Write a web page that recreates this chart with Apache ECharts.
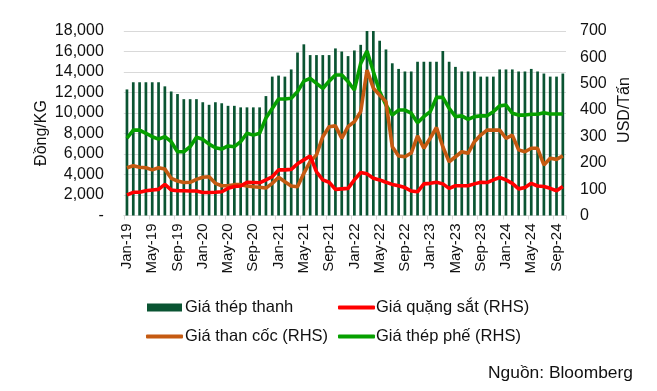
<!DOCTYPE html>
<html>
<head>
<meta charset="utf-8">
<script src="https://cdn.jsdelivr.net/npm/echarts@6/dist/echarts.min.js"></script>
<style>
html,body{margin:0;padding:0;background:#fff;}
#c{width:657px;height:391px;}
</style>
</head>
<body>
<div id="c"></div>
<script>
var categories = [
'Jan-19','Feb-19','Mar-19','Apr-19','May-19','Jun-19','Jul-19','Aug-19','Sep-19','Oct-19','Nov-19','Dec-19',
'Jan-20','Feb-20','Mar-20','Apr-20','May-20','Jun-20','Jul-20','Aug-20','Sep-20','Oct-20','Nov-20','Dec-20',
'Jan-21','Feb-21','Mar-21','Apr-21','May-21','Jun-21','Jul-21','Aug-21','Sep-21','Oct-21','Nov-21','Dec-21',
'Jan-22','Feb-22','Mar-22','Apr-22','May-22','Jun-22','Jul-22','Aug-22','Sep-22','Oct-22','Nov-22','Dec-22',
'Jan-23','Feb-23','Mar-23','Apr-23','May-23','Jun-23','Jul-23','Aug-23','Sep-23','Oct-23','Nov-23','Dec-23',
'Jan-24','Feb-24','Mar-24','Apr-24','May-24','Jun-24','Jul-24','Aug-24','Sep-24','Oct-24'
];
// Giá thép thanh (Đồng/KG)
var rebar = [
12300,13000,13000,13000,13000,13000,12600,12100,11850,11350,11350,11350,
11050,10800,11050,10950,10700,10700,10550,10550,10550,10550,11650,13550,
13650,13550,14250,15900,16700,15650,15650,15650,15650,16300,16000,15550,
16100,16650,18000,18000,17050,16200,14850,14300,14050,14050,15000,15000,
15000,15000,16050,15000,14500,14050,14050,14050,13550,13550,13550,14250,
14250,14250,14050,14050,14300,14050,13850,13550,13550,13850
];
// Giá quặng sắt (USD/Tấn)
var ironOre = [
78,88,88,94,97,99,118,97,94,94,93,93,
87,87,88,90,103,110,112,126,125,124,135,147,
173,173,175,196,211,226,166,135,126,99,101,103,
135,163,158,141,135,126,118,113,106,93,90,120,
122,126,120,103,113,113,113,120,126,125,135,144,
135,122,101,106,122,112,110,103,94,110
];
// Giá than cốc (USD/Tấn)
var cokingCoal = [
181,189,183,181,173,181,176,141,131,125,126,137,
145,147,122,113,113,117,117,112,109,107,104,122,
145,128,112,109,160,204,230,299,337,340,293,337,
356,394,552,483,457,432,261,226,223,237,302,255,
293,334,261,204,223,242,236,280,305,324,324,324,
293,305,249,242,255,255,192,217,213,226
];
// Giá thép phế (USD/Tấn)
var scrap = [
293,324,324,312,299,290,299,280,242,242,261,297,
289,271,257,252,264,261,280,312,305,312,370,406,
442,442,445,470,510,520,501,482,510,533,533,508,
476,577,624,546,470,419,381,400,400,388,352,375,
394,448,448,407,375,378,365,375,378,378,394,416,
419,388,381,381,384,384,390,385,385,385
];
var leftTicks = [0,2000,4000,6000,8000,10000,12000,14000,16000,18000];
var rightTicks = [0,100,200,300,400,500,600,700];

var FONT = '"Liberation Sans", Arial, sans-serif';
var TXT = '#111111';
var C_BAR = '#0A5432', C_RED = '#FF0000', C_ORG = '#C55A11', C_GRN = '#06A000';

var chart = echarts.init(document.getElementById('c'), null, {renderer:'canvas'});
function legendAt(name, left, top, icon, w, h, pad) {
  return {
    data:[{name:name, icon:icon}], left:left, top:top, itemWidth:w, itemHeight:h, itemGap:0,
    padding:0, textStyle:{fontFamily:FONT, fontSize:16.5, color:TXT, padding:[0,0,0,pad]}, selectedMode:false
  };
}
chart.setOption({
  animation:false,
  textStyle:{fontFamily:FONT},
  grid:{left:123.8, right:91, top:31, bottom:175.5, containLabel:false},
  legend:[
    legendAt('Giá thép thanh', 147, 299, 'rect', 35, 8, -2),
    legendAt('Giá quặng sắt (RHS)', 338, 299, 'roundRect', 37, 4, -4),
    legendAt('Giá than cốc (RHS)', 146, 328, 'roundRect', 37, 4, -3),
    legendAt('Giá thép phế (RHS)', 338, 328, 'roundRect', 37, 4, -4)
  ],
  xAxis:{
    type:'category', data:categories, boundaryGap:true,
    axisLine:{show:true, lineStyle:{color:'#d9d9d9', width:1}},
    axisTick:{show:true, interval:3, length:4, lineStyle:{color:'#d9d9d9'}},
    axisLabel:{interval:3, rotate:90, margin:8, fontSize:15, color:TXT, fontFamily:FONT}
  },
  yAxis:[
    {type:'value', min:0, max:18000, interval:2000, position:'left',
     axisLine:{show:false}, axisTick:{show:false},
     splitLine:{show:true, lineStyle:{color:'#d9d9d9', width:1}},
     axisLabel:{margin:20, fontSize:16, color:TXT, fontFamily:FONT,
       formatter:function(v){ return v===0 ? '-' : echarts.format.addCommas(v); }}},
    {type:'value', min:0, max:700, interval:100, position:'right',
     axisLine:{show:false}, axisTick:{show:false}, splitLine:{show:false},
     axisLabel:{margin:14, fontSize:16, color:TXT, fontFamily:FONT}}
  ],
  graphic:[
    {type:'text', x:41.5, y:133, rotation:Math.PI/2,
     style:{text:'Đồng/KG', font:'16px "Liberation Sans", Arial, sans-serif', fill:TXT, align:'center', verticalAlign:'middle'}},
    {type:'text', x:625, y:110, rotation:Math.PI/2,
     style:{text:'USD/Tấn', font:'16px "Liberation Sans", Arial, sans-serif', fill:TXT, align:'center', verticalAlign:'middle'}},
    {type:'text', x:633, y:373,
     style:{text:'Nguồn: Bloomberg', font:'17.4px "Liberation Sans", Arial, sans-serif', fill:TXT, align:'right', verticalAlign:'middle'}}
  ],
  series:[
    {name:'Giá thép thanh', type:'bar', yAxisIndex:0, data:rebar, barWidth:2.7,
     itemStyle:{color:C_BAR}},
    {name:'Giá quặng sắt (RHS)', type:'line', yAxisIndex:1, data:ironOre, symbol:'none',
     lineStyle:{color:C_RED, width:3.6}, itemStyle:{color:C_RED}, z:4},
    {name:'Giá than cốc (RHS)', type:'line', yAxisIndex:1, data:cokingCoal, symbol:'none',
     lineStyle:{color:C_ORG, width:3.6}, itemStyle:{color:C_ORG}, z:3},
    {name:'Giá thép phế (RHS)', type:'line', yAxisIndex:1, data:scrap, symbol:'none',
     lineStyle:{color:C_GRN, width:3.6}, itemStyle:{color:C_GRN}, z:2}
  ]
});
</script>
</body>
</html>
